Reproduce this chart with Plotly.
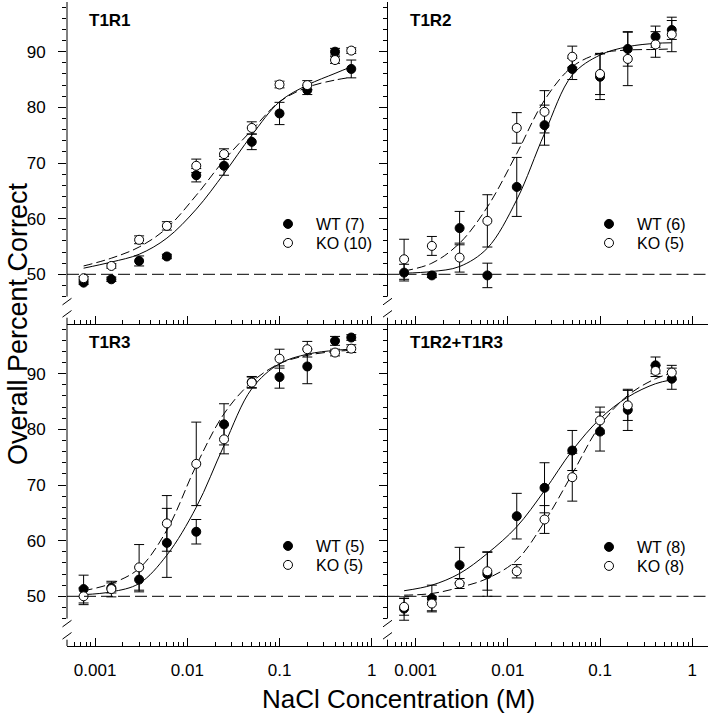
import plotly.graph_objects as go
from plotly.subplots import make_subplots

# NaCl concentrations (M)
conc = [0.00075, 0.0015, 0.003, 0.006, 0.0125, 0.025, 0.05, 0.1, 0.2, 0.4, 0.6]

# T1R1
t1r1_wt = [48.5, 49.1, 52.4, 53.2, 67.8, 69.5, 73.8, 78.9, 83.1, 90.0, 86.9]
t1r1_wt_err = [0.3, 0.4, 0.9, 0.4, 1.2, 1.7, 1.4, 2.0, 0.8, 0.6, 1.6]
t1r1_ko = [49.3, 51.5, 56.2, 58.7, 69.5, 71.6, 76.3, 84.1, 84.0, 88.5, 90.2]
t1r1_ko_err = [0.3, 0.4, 0.7, 0.75, 1.2, 0.95, 1.1, 0.6, 0.8, 0.6, 0.5]
t1r1_wt_fit = [51.1, 52.2, 53.6, 56.5, 61.7, 68.1, 75.0, 81.0, 84.0, 86.1, 87.3]
t1r1_ko_fit = [51.5, 52.9, 54.9, 58.3, 64.2, 70.5, 75.9, 81.0, 83.6, 84.9, 85.4]

# T1R2
t1r2_wt = [50.3, 49.8, 58.3, 49.8, 65.7, 76.8, 86.9, 85.5, 90.5, 92.7, 93.9]
t1r2_wt_err = [1.5, 0.4, 3.0, 2.2, 5.3, 3.6, 1.9, 4.1, 3.1, 1.9, 1.7]
t1r2_ko = [52.7, 55.1, 53.0, 59.6, 76.3, 79.2, 89.1, 86.0, 88.7, 91.3, 93.1]
t1r2_ko_err = [3.6, 1.7, 2.6, 4.7, 2.75, 3.8, 1.9, 3.7, 4.8, 2.3, 3.1]
t1r2_wt_fit = [50.2, 50.5, 51.4, 54.7, 63.4, 75.3, 85.8, 89.4, 90.9, 91.5, 91.6]
t1r2_ko_fit = [50.6, 52.0, 55.6, 62.1, 71.7, 81.3, 87.3, 89.7, 90.3, 90.4, 90.5]

# T1R3
t1r3_wt = [51.3, 51.5, 53.0, 59.6, 61.6, 80.9, 88.5, 89.4, 91.3, 95.9, 96.5]
t1r3_wt_err = [2.5, 0.9, 2.2, 6.2, 2.2, 3.7, 1.0, 2.0, 3.1, 0.8, 0.5]
t1r3_ko = [50.0, 51.3, 55.2, 63.1, 73.8, 78.2, 88.4, 92.7, 94.4, 93.8, 94.5]
t1r3_ko_err = [1.5, 1.4, 4.1, 5.0, 7.5, 2.6, 1.0, 1.7, 1.4, 0.6, 0.7]
t1r3_wt_fit = [50.3, 50.8, 52.3, 57.4, 66.0, 77.1, 87.3, 91.8, 93.5, 94.2, 94.4]
t1r3_ko_fit = [51.0, 52.3, 55.0, 61.9, 73.5, 82.8, 88.5, 91.8, 93.3, 94.0, 94.2]

# T1R2+T1R3
dko_wt = [47.8, 49.6, 55.6, 54.0, 64.4, 69.5, 76.2, 79.6, 83.5, 91.5, 89.1]
dko_wt_err = [2.1, 2.4, 3.2, 4.0, 4.1, 4.5, 3.6, 3.5, 3.7, 1.5, 1.9]
dko_ko = [48.1, 48.7, 52.3, 54.5, 54.5, 63.8, 71.4, 81.6, 84.3, 90.5, 90.2]
dko_ko_err = [1.5, 1.3, 0.9, 3.4, 1.2, 2.5, 4.3, 2.4, 2.7, 1.0, 1.3]
dko_wt_fit = [51.0, 52.0, 54.1, 57.7, 62.5, 69.0, 76.2, 81.9, 85.8, 88.2, 88.9]
dko_ko_fit = [50.2, 50.5, 51.6, 53.2, 56.5, 63.4, 72.0, 80.7, 86.1, 89.1, 90.1]

panel_names = ['T1R1', 'T1R2', 'T1R3', 'T1R2+T1R3']
wt_n = [7, 6, 5, 8]
ko_n = [10, 5, 5, 8]

x_major = [0.001, 0.01, 0.1, 1]
x_labels = ['0.001', '0.01', '0.1', '1']
x_minor = [m * d for d in (0.0001, 0.001, 0.01, 0.1) for m in range(2, 10)
           if 0.0005 < m * d < 1.5]
y_major = [50, 60, 70, 80, 90]
y_minor = [46, 48, 52, 54, 56, 58, 62, 64, 66, 68, 72, 74, 76, 78,
           82, 84, 86, 88, 92, 94, 96, 98]

panels = [
    (t1r1_wt, t1r1_wt_err, t1r1_ko, t1r1_ko_err, t1r1_wt_fit, t1r1_ko_fit),
    (t1r2_wt, t1r2_wt_err, t1r2_ko, t1r2_ko_err, t1r2_wt_fit, t1r2_ko_fit),
    (t1r3_wt, t1r3_wt_err, t1r3_ko, t1r3_ko_err, t1r3_wt_fit, t1r3_ko_fit),
    (dko_wt, dko_wt_err, dko_ko, dko_ko_err, dko_wt_fit, dko_ko_fit),
]

W, H = 711, 719
ML, MR, MT, MB = 67, 3, 2, 73
PW, PH = W - ML - MR, H - MT - MB
XR = [-3.305, 0.171]
YR = [41.07, 98.93]
FONT = 'Liberation Sans, Arial, sans-serif'

fig = make_subplots(rows=2, cols=2, horizontal_spacing=0, vertical_spacing=0)

# legend marker centres in pixels: (x, y_wt, y_ko) per panel
legend_px = [(288, 224, 243), (609, 224, 243), (288, 546, 565), (609, 547, 566)]
legends = {}


def legend_entry(key, px, py):
    legends[key] = dict(x=(px - ML) / PW, y=(H - MB - py) / PH,
                        xanchor='left', yanchor='middle', bgcolor='rgba(0,0,0,0)',
                        borderwidth=0, font_size=16, font_family=FONT,
                        font_color='black')


for i, (wt, wt_err, ko, ko_err, wt_fit, ko_fit) in enumerate(panels):
    row, col = i // 2 + 1, i % 2 + 1
    lg_wt = 'legend' if i == 0 else 'legend%d' % (2 * i + 1)
    lg_ko = 'legend%d' % (2 * i + 2)
    mx, my_wt, my_ko = legend_px[i]
    legend_entry(lg_wt, mx - 20, my_wt)
    legend_entry(lg_ko, mx - 20, my_ko)
    fig.add_trace(go.Scatter(x=conc, y=wt_fit, mode='lines', line_shape='spline',
                             line=dict(color='black', width=1), showlegend=False),
                  row=row, col=col)
    fig.add_trace(go.Scatter(x=conc, y=ko_fit, mode='lines', line_shape='spline',
                             line=dict(color='black', width=1, dash='9px,4px'),
                             showlegend=False),
                  row=row, col=col)
    fig.add_trace(go.Scatter(x=conc, y=wt, mode='markers',
                             name='\u200b\u2002WT (%d)' % wt_n[i],
                             marker=dict(color='black', size=9,
                                         line=dict(color='black', width=1)),
                             error_y=dict(type='data', array=wt_err, color='black',
                                          thickness=1, width=5),
                             legend=lg_wt),
                  row=row, col=col)
    fig.add_trace(go.Scatter(x=conc, y=ko, mode='markers',
                             name='\u200b\u2002KO (%d)' % ko_n[i],
                             marker=dict(color='white', size=9,
                                         line=dict(color='black', width=1)),
                             error_y=dict(type='data', array=ko_err, color='black',
                                          thickness=1, width=5),
                             legend=lg_ko),
                  row=row, col=col)

fig.update_xaxes(type='log', range=XR, tickvals=x_major, ticktext=x_labels,
                 ticks='inside', ticklen=8, tickwidth=1, tickcolor='black',
                 minor=dict(tickvals=x_minor, ticks='inside', ticklen=4,
                            tickwidth=1, tickcolor='black'),
                 showline=True, linecolor='black', linewidth=1,
                 showgrid=False, zeroline=False, automargin=False,
                 ticklabelstandoff=9,
                 tickfont=dict(family=FONT, size=17, color='black'))
fig.update_xaxes(showticklabels=False, row=1)
fig.update_yaxes(range=YR, tickvals=y_major, ticks='outside', ticklen=8,
                 tickwidth=1, tickcolor='black',
                 minor=dict(tickvals=y_minor, ticks='outside', ticklen=4,
                            tickwidth=1, tickcolor='black'),
                 showline=False, showgrid=False, zeroline=False, automargin=False,
                 ticklabelstandoff=9,
                 tickfont=dict(family=FONT, size=17, color='black'))
fig.update_yaxes(showticklabels=False, col=2)


def ypaper(row, v):
    base = 0.5 if row == 1 else 0.0
    return base + (v - YR[0]) / (YR[1] - YR[0]) * 0.5


shapes = []
for i in range(4):
    row, col = i // 2 + 1, i % 2 + 1
    xa = '' if i == 0 else str(i + 1)
    # chance level
    shapes.append(dict(type='line', xref='x%s domain' % xa, x0=0, x1=1,
                       yref='y%s' % xa, y0=50, y1=50,
                       line=dict(color='black', width=1, dash='12px,5px')))
    # broken y axis line
    xp = 0.0 if col == 1 else 0.5
    top = 1.0 if row == 1 else 0.5
    bot = 0.5 if row == 1 else 0.0
    shapes.append(dict(type='line', xref='paper', yref='paper', x0=xp, x1=xp,
                       y0=top, y1=ypaper(row, 46.0),
                       line=dict(color='black', width=1)))
    shapes.append(dict(type='line', xref='paper', yref='paper', x0=xp, x1=xp,
                       y0=ypaper(row, 42.2), y1=bot,
                       line=dict(color='black', width=1)))
    for v in (45.1, 42.9):
        shapes.append(dict(type='line', xref='paper', yref='paper',
                           xsizemode='pixel', xanchor=xp, x0=-4.5, x1=4.5,
                           ysizemode='pixel', yanchor=ypaper(row, v), y0=-3.3, y1=3.3,
                           line=dict(color='black', width=1)))

annotations = []
for i, name in enumerate(panel_names):
    xa = '' if i == 0 else str(i + 1)
    annotations.append(dict(text='<b>%s</b>' % name, xref='x%s domain' % xa,
                            yref='y%s domain' % xa, x=20 / (PW / 2), y=1 - 18 / (PH / 2),
                            xanchor='left', yanchor='middle', showarrow=False,
                            font=dict(family=FONT, size=17, color='black')))
annotations.append(dict(text='NaCl Concentration (M)', xref='paper', yref='paper',
                        x=(398 - ML) / PW, y=-(699 - (H - MB)) / PH,
                        xanchor='center', yanchor='middle', showarrow=False,
                        font=dict(family=FONT, size=26, color='black')))
annotations.append(dict(text='Overall Percent Correct', xref='paper', yref='paper',
                        x=-(ML - 18) / PW, y=0.5, textangle=-90,
                        xanchor='center', yanchor='middle', showarrow=False,
                        font=dict(family=FONT, size=27, color='black')))

fig.update_layout(template='none', width=W, height=H,
                  font=dict(family=FONT, size=16, color='black'),
                  margin=dict(l=ML, r=MR, t=MT, b=MB),
                  plot_bgcolor='white', paper_bgcolor='white',
                  shapes=shapes, annotations=annotations, **legends)

fig.write_html('out.html', config={'displayModeBar': False},
               post_script="document.body.style.margin='0';")
